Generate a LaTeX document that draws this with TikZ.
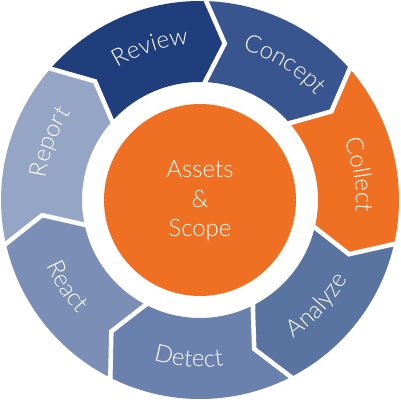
\documentclass[tikz,border=0pt]{standalone}
\usepackage{fontspec}
\setmainfont{Lato}[UprightFont={* Light}]
\usetikzlibrary{decorations.text}
\definecolor{cReview}{HTML}{213E7C}
\definecolor{cConcept}{HTML}{38558F}
\definecolor{cOrange}{HTML}{EF7022}
\definecolor{cAnalyze}{HTML}{5A74A2}
\definecolor{cDetect}{HTML}{6A81AD}
\definecolor{cReact}{HTML}{7A8EB6}
\definecolor{cReport}{HTML}{95A5C5}
\newcommand\cycseg[3]{%
  \fill[#3] (#1:199) arc[start angle=#1, end angle=#2, radius=199]
    -- ({#2-8}:158.5) -- (#2:118) arc[start angle=#2, end angle=#1, radius=118]
    -- ({#1-8}:158.5) -- cycle;}
\newcommand\cycgap[1]{\draw[gapline] (#1:205) -- ({#1-8}:158.5) -- (#1:112);}
\newcommand\outlbl[2]{\path[lbl={#2}] ({#1+40}:156) arc[start angle={#1+40}, end angle={#1-40}, radius=156];}
\newcommand\inlbl[2]{\path[lbl={#2}] ({#1-40}:167) arc[start angle={#1-40}, end angle={#1+40}, radius=167];}
\tikzset{
  gapline/.style={draw=white, line width=4.5pt, line join=miter},
  lbl/.style={decorate, decoration={text along path, text align=center,
     text={|\fontsize{24}{24}\selectfont\color{white}|#1}}},
  hubstyle/.style={circle, fill=cOrange, minimum size=192pt, inner sep=0pt},
  hubtext/.style={text=white, align=center, font=\fontsize{24}{29.5}\selectfont}
}
\begin{document}
\begin{tikzpicture}[x=1pt,y=1pt]
\useasboundingbox (-200,-210) rectangle (200,200);
\fill[white] (-200,-210) rectangle (200,200);
\cycseg{139.5}{89}{cReview}
\cycseg{89}{42}{cConcept}
\cycseg{42}{-12}{cOrange}
\cycseg{-12}{-62}{cAnalyze}
\cycseg{-62}{-116}{cDetect}
\cycseg{-116}{-166.5}{cReact}
\cycseg{-166.5}{-220.5}{cReport}
\cycgap{89}
\cycgap{42}
\cycgap{-12}
\cycgap{-62}
\cycgap{-116}
\cycgap{-166.5}
\cycgap{139.5}
\outlbl{108}{Review}
\outlbl{58}{Concept}
\outlbl{9}{Collect}
\inlbl{-42}{Analyze}
\inlbl{-94}{Detect}
\inlbl{-147}{React}
\outlbl{159}{Report}
\node[hubstyle] (hub) at (0,0) {};
\node[hubtext] (hublabel) at (0,-1) {Assets\\\&\\Scope};
\end{tikzpicture}
\end{document}
